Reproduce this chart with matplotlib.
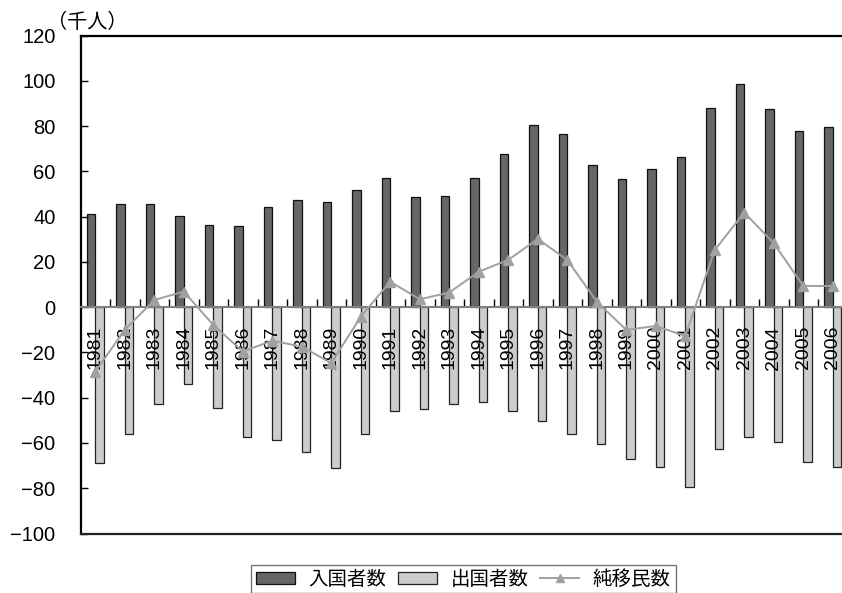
import numpy as np
import matplotlib
matplotlib.use("Agg")
import matplotlib.pyplot as plt
from matplotlib.ticker import FixedLocator
from matplotlib.lines import Line2D
from matplotlib.patches import Patch

plt.rcParams['font.family'] = ['Liberation Sans', 'Noto Sans CJK JP', 'DejaVu Sans']

years = [str(y) for y in range(1981, 2007)]
inbound = [41.1, 45.6, 45.6, 40.5, 36.5, 35.8, 44.3, 47.6, 46.5, 51.8,
           57.0, 48.6, 49.2, 57.1, 67.6, 80.4, 76.6, 63.0, 56.6, 61.0,
           66.3, 88.2, 98.5, 87.5, 77.9, 79.7]
outbound = [-68.9, -56.0, -42.6, -34.0, -44.5, -57.4, -58.6, -63.9, -70.9, -56.0,
            -45.8, -45.1, -42.6, -41.7, -45.8, -50.2, -56.0, -60.5, -67.2, -70.4,
            -79.5, -62.6, -57.4, -59.4, -68.4, -70.4]
net = [-28.5, -10.0, 3.2, 6.9, -7.8, -19.6, -14.8, -17.4, -24.7, -4.2,
       11.3, 3.5, 6.5, 15.7, 20.9, 30.2, 20.9, 2.5, -10.0, -8.3,
       -12.7, 25.3, 41.8, 28.3, 9.4, 9.4]
yticks = list(range(-100, 121, 20))
series_names = ['入国者数', '出国者数', '純移民数']
unit_label = '（千人）'

dark = '#666666'
light = '#cccccc'
line_grey = '#a0a0a0'

fig = plt.figure(figsize=(8.42, 5.93), dpi=100)
ax = fig.add_axes([80.5 / 842, 1 - 533.5 / 593, 767 / 842, (533.5 - 35.7) / 593])

x = np.arange(len(years))
w = 0.28
ax.bar(x - w / 2, inbound, width=w, color=dark, edgecolor='#111111', linewidth=0.9, zorder=1)
ax.bar(x + w / 2, outbound, width=w, color=light, edgecolor='#222222', linewidth=0.9, zorder=1)
ax.plot(x, net, color=line_grey, linewidth=1.4, marker='^', markersize=7.5,
        markerfacecolor=line_grey, markeredgecolor=line_grey, zorder=4)

ax.set_xlim(-0.5, len(years) - 0.5)
ax.set_ylim(-100, 120)

# y axis, with a true minus sign on negative labels
ax.set_yticks(yticks)
ax.set_yticklabels([str(v).replace('-', '\u2212') for v in yticks])
ax.tick_params(axis='y', direction='in', length=5, width=1, pad=18, labelsize=14.5, colors='black')

# x axis drawn along zero, labels rotated below it
ax.spines['bottom'].set_position(('data', 0))
ax.spines['bottom'].set_color('#808080')
ax.spines['bottom'].set_linewidth(1.5)
ax.set_xticks(x)
ax.set_xticklabels(years, rotation=90)
ax.tick_params(axis='x', which='major', length=0, pad=13.5, labelsize=14)
ax.xaxis.set_minor_locator(FixedLocator(np.arange(0.5, len(years) - 0.5, 1.0)))
ax.tick_params(axis='x', which='minor', direction='in', length=5.5, width=1, color='black')

for s in ['left', 'top', 'right']:
    ax.spines[s].set_color('black')
    ax.spines[s].set_linewidth(1.6)
# lower frame edge
ax.axhline(-100, color='#222222', linewidth=1.6, clip_on=False, zorder=5)

fig.text(87 / 842, 1 - 22 / 593, unit_label, ha='center', va='center', fontsize=14.5)

handles = [
    Patch(facecolor=dark, edgecolor='#111111', linewidth=0.9),
    Patch(facecolor=light, edgecolor='#222222', linewidth=0.9),
    Line2D([], [], color=line_grey, linewidth=1.4, marker='^', markersize=6,
           markerfacecolor=line_grey, markeredgecolor=line_grey),
]
leg = fig.legend(handles, series_names, loc='upper center', ncol=3,
                 bbox_to_anchor=(463.5 / 842, 1 - 565 / 593), fontsize=14,
                 frameon=True, fancybox=False, handlelength=2.0, handleheight=0.6,
                 handletextpad=0.7, columnspacing=0.6, borderpad=0.25,
                 borderaxespad=0)
leg.get_frame().set_edgecolor('#555555')
leg.get_frame().set_linewidth(1.0)

fig.savefig('out.png', dpi=100)
